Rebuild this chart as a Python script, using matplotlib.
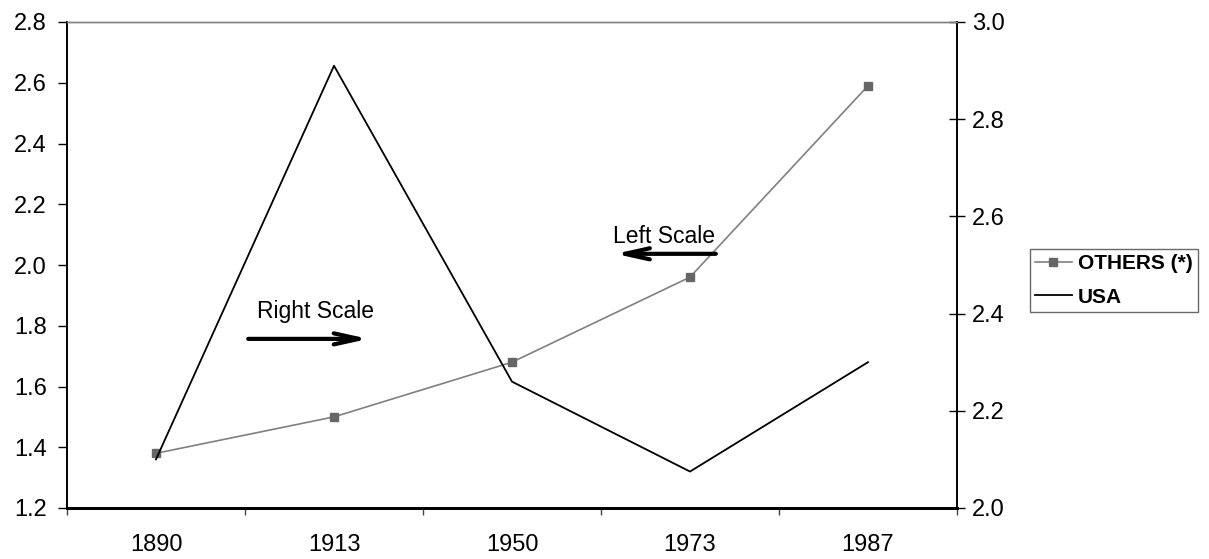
import matplotlib
matplotlib.use("Agg")
import matplotlib.pyplot as plt
from matplotlib.ticker import FixedLocator, NullFormatter

years = ["1890", "1913", "1950", "1973", "1987"]
others = [1.38, 1.50, 1.68, 1.96, 2.59]
usa = [2.10, 2.91, 2.26, 2.075, 2.30]
left_ticks = [1.2, 1.4, 1.6, 1.8, 2.0, 2.2, 2.4, 2.6, 2.8]
right_ticks = [2.0, 2.2, 2.4, 2.6, 2.8, 3.0]

plt.rcParams['font.family'] = ['Liberation Sans', 'DejaVu Sans']

W, H = 1209, 559
fig = plt.figure(figsize=(W / 100, H / 100), dpi=100)
L, R, T, B = 67, 957, 22, 508
ax = fig.add_axes([L / W, (H - B) / H, (R - L) / W, (B - T) / H])
ax2 = ax.twinx()

x = list(range(len(years)))
l1, = ax.plot(x, others, color='#808080', lw=1.2, marker='s', markersize=6,
              markerfacecolor='#666666', markeredgecolor='#666666', zorder=3,
              label='OTHERS (*)')
l2, = ax2.plot(x, usa, color='black', lw=1.3, label='USA')

ax.set_xlim(-0.5, len(years) - 0.5)
ax.set_ylim(1.2, 2.8)
ax2.set_ylim(2.0, 3.0)

ax.set_yticks(left_ticks)
ax.set_yticklabels([f"{v:.1f}" for v in left_ticks])
ax2.set_yticks(right_ticks)
ax2.set_yticklabels([f"{v:.1f}" for v in right_ticks])

ax.set_xticks(x)
ax.set_xticklabels(years)
ax.xaxis.set_minor_locator(FixedLocator([i - 0.5 for i in range(len(years) + 1)]))
ax.xaxis.set_minor_formatter(NullFormatter())
ax.tick_params(axis='x', which='major', length=0, pad=19, labelsize=17)
ax.tick_params(axis='x', which='minor', length=5, width=1, direction='out',
               color='#444444')
ax.tick_params(axis='y', length=6.5, width=1, direction='out', pad=8, labelsize=17)
ax2.tick_params(axis='y', length=11, width=1, direction='inout', pad=5, labelsize=17)

for a in (ax, ax2):
    a.spines['top'].set_color('#808080')
    a.spines['top'].set_linewidth(1.0)
    a.spines['left'].set_linewidth(1.2)
    a.spines['right'].set_linewidth(1.2)
    a.spines['bottom'].set_linewidth(2.0)

arrow_style = '->,head_length=0.9,head_width=0.2'
# annotations
ax.text(0.2137, 0.391, "Right Scale", transform=ax.transAxes, fontsize=16.5,
        ha='left', va='baseline')
ax.annotate("", xy=(0.3386, 0.348), xytext=(0.2036, 0.348),
            xycoords='axes fraction', textcoords='axes fraction',
            arrowprops=dict(arrowstyle=arrow_style,
                            lw=3, color='black', shrinkA=0, shrinkB=0,
                            mutation_scale=20))
ax.text(0.614, 0.545, "Left Scale", transform=ax.transAxes, fontsize=16.5,
        ha='left', va='baseline')
ax.annotate("", xy=(0.616, 0.523), xytext=(0.729, 0.523),
            xycoords='axes fraction', textcoords='axes fraction',
            arrowprops=dict(arrowstyle=arrow_style,
                            lw=3, color='black', shrinkA=0, shrinkB=0,
                            mutation_scale=20))

leg = fig.legend([l1, l2], ['OTHERS (*)', 'USA'], loc='upper left',
                 bbox_to_anchor=(1030 / W, 1 - 249 / H),
                 prop={'weight': 'bold', 'size': 15}, frameon=True,
                 fancybox=False, edgecolor='#444444', handlelength=1.75,
                 handletextpad=0.3, borderpad=0.25, labelspacing=0.7,
                 borderaxespad=0)
leg.get_frame().set_linewidth(1.0)

fig.savefig("out.png", dpi=100)
